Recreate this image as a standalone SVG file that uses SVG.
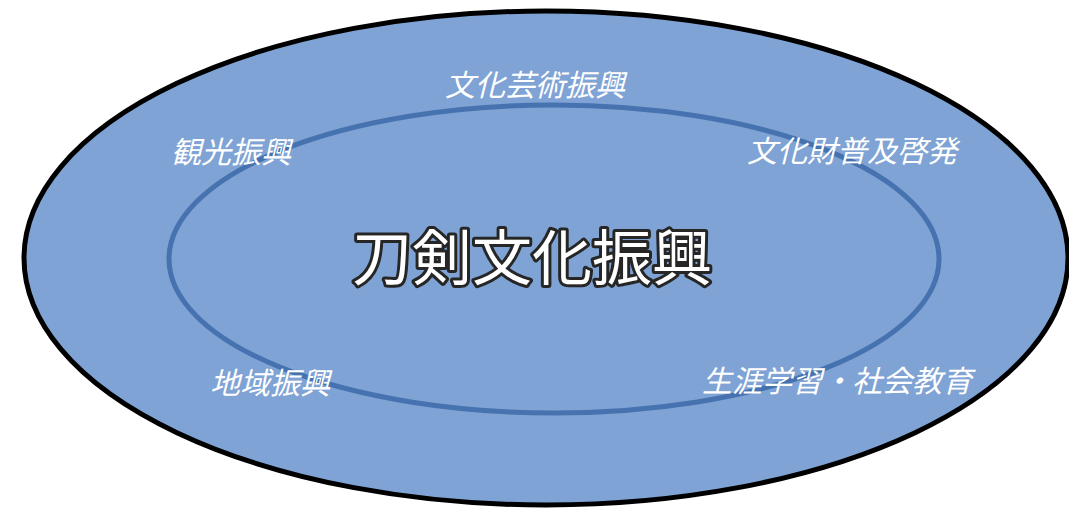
<svg xmlns="http://www.w3.org/2000/svg" width="1069" height="511" viewBox="0 0 1069 511">
  <style>
    .lbl { font-family: "Noto Sans CJK JP", "Noto Sans CJK SC", sans-serif; font-size: 30px; font-style: italic; fill: #ffffff; text-anchor: middle; }
    .title { font-family: "Noto Sans CJK JP", "Noto Sans CJK SC", sans-serif; font-size: 60px; fill: #ffffff; stroke: #262626; stroke-width: 6; stroke-linejoin: round; paint-order: stroke; text-anchor: middle; }
  </style>
  <rect width="1069" height="511" fill="#ffffff"/>
  <g id="outer">
    <ellipse cx="546" cy="258" rx="522" ry="247" fill="#7fa3d4" stroke="#000000" stroke-width="5"/>
  </g>
  <g id="inner">
    <ellipse cx="554" cy="259" rx="385" ry="154" fill="none" stroke="#4673b0" stroke-width="5"/>
  </g>
  <g id="center">
    <text class="title" x="532" y="280">刀剣文化振興</text>
  </g>
  <g id="n1"><text class="lbl" x="535" y="96">文化芸術振興</text></g>
  <g id="n2"><text class="lbl" x="231" y="163">観光振興</text></g>
  <g id="n3"><text class="lbl" x="852" y="162">文化財普及啓発</text></g>
  <g id="n4"><text class="lbl" x="270" y="394">地域振興</text></g>
  <g id="n5"><text class="lbl" x="837" y="392">生涯学習・社会教育</text></g>
  <g id="connectors"></g>
</svg>
